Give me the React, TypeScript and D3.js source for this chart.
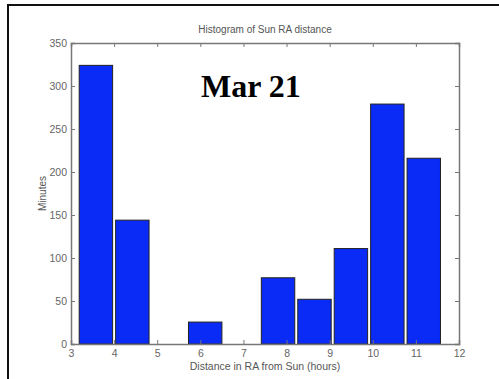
import * as d3 from "d3";
import { useEffect, useRef } from "react";

// histogram bins (hours) and minutes per bin
const binStart = 3.19;
const binWidth = 0.845;
const minutes = [324, 144, 0, 25.5, 0, 77, 52, 111, 279, 216];
const xTicks = [3, 4, 5, 6, 7, 8, 9, 10, 11, 12];
const yTicks = [0, 50, 100, 150, 200, 250, 300, 350];

const App = () => {
    const svgRef = useRef<SVGSVGElement>(null);
    const width = 499;
    const height = 379;

    useEffect(() => {
        const svg = d3.select(svgRef.current);
        svg.selectAll("*").remove();

        const margin = { top: 43, right: 40, bottom: 35, left: 71 };
        const innerWidth = width - margin.left - margin.right;
        const innerHeight = height - margin.top - margin.bottom;

        svg.append("rect")
            .attr("width", width)
            .attr("height", height)
            .attr("fill", "#fff");

        // slide frame
        svg.append("path")
            .attr("d", `M8,${height} V5 H${width}`)
            .attr("fill", "none")
            .attr("stroke", "#111")
            .attr("stroke-width", 2);

        const g = svg
            .append("g")
            .attr("transform", `translate(${margin.left},${margin.top})`);

        const x = d3.scaleLinear().domain([3, 12]).range([0, innerWidth]);
        const y = d3.scaleLinear().domain([0, 350]).range([innerHeight, 0]);

        const bins = minutes.map((v, i) => ({
            x0: binStart + i * binWidth,
            x1: binStart + (i + 1) * binWidth,
            v,
        }));

        g.selectAll(".bar")
            .data(bins.filter((d) => d.v > 0))
            .join("rect")
            .attr("class", "bar")
            .attr("x", (d) => x(d.x0))
            .attr("y", (d) => y(d.v))
            .attr("width", (d) => x(d.x1) - x(d.x0) - 3)
            .attr("height", (d) => y(0) - y(d.v))
            .attr("fill", "#0a2af6")
            .attr("stroke", "#222")
            .attr("stroke-width", 1);

        const tickColor = "#777";
        const fontFamily = "'Liberation Sans', Arial, sans-serif";

        // inward ticks on all sides
        const xAxis = d3.axisBottom(x).tickValues(xTicks).tickSize(-4).tickPadding(6).tickFormat(d3.format("d"));
        const yAxis = d3.axisLeft(y).tickValues(yTicks).tickSize(-4).tickPadding(4);
        const xTop = d3.axisTop(x).tickValues(xTicks).tickSize(-4).tickFormat(() => "");
        const yRight = d3.axisRight(y).tickValues(yTicks).tickSize(-4).tickFormat(() => "");

        const axes = [
            g.append("g").attr("transform", `translate(0,${innerHeight})`).call(xAxis),
            g.append("g").call(yAxis),
            g.append("g").call(xTop),
            g.append("g").attr("transform", `translate(${innerWidth},0)`).call(yRight),
        ];
        axes.forEach((a) => {
            a.select(".domain").attr("stroke", tickColor).attr("stroke-width", 1.5);
            a.selectAll(".tick line").attr("stroke", tickColor);
            a.selectAll(".tick text")
                .attr("fill", "#666")
                .attr("font-family", fontFamily)
                .attr("font-size", 10.5);
        });

        svg.append("text")
            .attr("x", margin.left + innerWidth / 2)
            .attr("y", 33)
            .attr("text-anchor", "middle")
            .attr("font-family", fontFamily)
            .attr("font-size", 10)
            .attr("fill", "#555")
            .text("Histogram of Sun RA distance");

        svg.append("text")
            .attr("x", margin.left + innerWidth / 2)
            .attr("y", 370)
            .attr("text-anchor", "middle")
            .attr("font-family", fontFamily)
            .attr("font-size", 10.5)
            .attr("fill", "#555")
            .text("Distance in RA from Sun (hours)");

        svg.append("text")
            .attr("transform", `translate(46,${margin.top + innerHeight / 2}) rotate(-90)`)
            .attr("text-anchor", "middle")
            .attr("font-family", fontFamily)
            .attr("font-size", 10)
            .attr("fill", "#555")
            .text("Minutes");

        svg.append("text")
            .attr("x", 201)
            .attr("y", 97)
            .attr("font-family", "'Liberation Serif', 'Times New Roman', serif")
            .attr("font-weight", "bold")
            .attr("font-size", 32)
            .attr("fill", "#000")
            .text("Mar 21");
    }, []);

    return (
        <svg
            ref={svgRef}
            width={width}
            height={height}
            style={{ position: "absolute", left: 0, top: 0 }}
        />
    );
};

export default App;
